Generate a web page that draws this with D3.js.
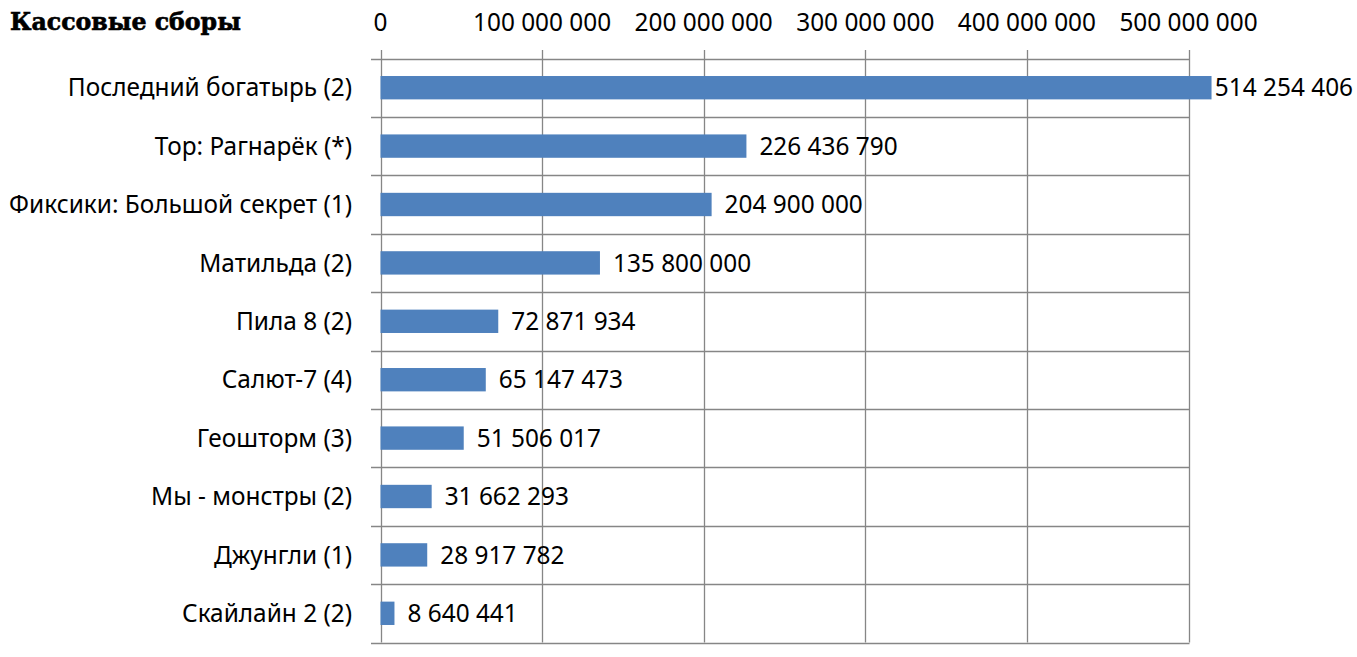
<!DOCTYPE html>
<html>
<head>
<meta charset="utf-8">
<script src="https://cdn.jsdelivr.net/npm/d3@7/dist/d3.min.js"></script>
<style>
  html, body { margin: 0; padding: 0; background: #fff; }
  svg { display: block; }
</style>
</head>
<body>
<svg id="chart" width="1357" height="657"></svg>
<script>
const title = "Кассовые сборы";
const categories = [
  "Последний богатырь (2)",
  "Тор: Рагнарёк (*)",
  "Фиксики: Большой секрет (1)",
  "Матильда (2)",
  "Пила 8 (2)",
  "Салют-7 (4)",
  "Геошторм (3)",
  "Мы - монстры (2)",
  "Джунгли (1)",
  "Скайлайн 2 (2)"
];
const values = [514254406, 226436790, 204900000, 135800000, 72871934, 65147473, 51506017, 31662293, 28917782, 8640441];
const tickValues = [0, 100000000, 200000000, 300000000, 400000000, 500000000];

const W = 1357, H = 657;
const svg = d3.select("#chart");
const sans = "'Noto Sans', 'Open Sans', sans-serif";
const serif = "'DejaVu Serif', 'Liberation Serif', serif";

function fitSize(str, family, weight, targetW) {
  const t = svg.append("text").attr("font-family", family).attr("font-weight", weight)
    .attr("font-size", 100).text(str);
  const w = t.node().getComputedTextLength();
  t.remove();
  return 100 * targetW / w;
}
const labelSize = fitSize("Фиксики: Большой секрет (1)", sans, "normal", 343);
const titleSize = fitSize(title, serif, "bold", 231);
const labelScaleY = 1.07;

const fmt = v => d3.format(",")(v).replace(/,/g, " ");

const x = d3.scaleLinear().domain([0, 500000000]).range([380.5, 1188.5]);
const y = d3.scaleBand().domain(categories).range([58.5, 642.5]).padding(0);
const barH = y.bandwidth() * 0.4;

const grid = "#868686";

svg.append("g").selectAll("line").data(tickValues).join("line")
  .attr("x1", d => Math.round(x(d)) + 0.5).attr("x2", d => Math.round(x(d)) + 0.5)
  .attr("y1", 50).attr("y2", 642.5)
  .attr("stroke", grid).attr("stroke-width", 1.3);

const bounds = categories.map(c => y(c)).concat([y(categories[categories.length - 1]) + y.bandwidth()]);
svg.append("g").selectAll("line").data(bounds).join("line")
  .attr("x1", 371).attr("x2", Math.round(x(500000000)) + 0.5)
  .attr("y1", d => Math.round(d) + 0.5).attr("y2", d => Math.round(d) + 0.5)
  .attr("stroke", grid).attr("stroke-width", 1.3);

svg.append("g").selectAll("rect").data(values).join("rect")
  .attr("x", x(0))
  .attr("y", (d, i) => y(categories[i]) + (y.bandwidth() - barH) / 2)
  .attr("width", d => x(d) - x(0))
  .attr("height", barH)
  .attr("fill", "#4F81BD");

// helper: place text with slight vertical stretch about its baseline
function stretch(sel, px, py) {
  sel.attr("transform", (d, i) => `translate(${px(d, i)},${py(d, i)}) scale(1,${labelScaleY})`);
}

const ticksG = svg.append("g").selectAll("text").data(tickValues).join("text")
  .attr("text-anchor", "middle")
  .attr("font-family", sans).attr("font-size", labelSize).attr("fill", "#000")
  .text(d => fmt(d));
stretch(ticksG, d => x(d), () => 31);

const catG = svg.append("g").selectAll("text").data(categories).join("text")
  .attr("text-anchor", "end")
  .attr("font-family", sans).attr("font-size", labelSize).attr("fill", "#000")
  .text(d => d);
stretch(catG, () => 352, d => y(d) + y.bandwidth() / 2 + labelSize * 0.36);

const vl = svg.append("g").selectAll("text").data(values).join("text")
  .attr("font-family", sans).attr("font-size", labelSize).attr("fill", "#000")
  .text(d => fmt(d));
vl.each(function(d, i) {
  const w = this.getComputedTextLength();
  const px = Math.min(x(d) + 13, W - 4 - w);
  const py = y(categories[i]) + y.bandwidth() / 2 + labelSize * 0.36;
  d3.select(this).attr("transform", `translate(${px},${py}) scale(1,${labelScaleY})`);
});

// title: heavy bold serif, stretched to match cap height
const capTarget = 18;
const ty = capTarget / (0.729 * titleSize);
svg.append("text")
  .attr("transform", `translate(10,30) scale(1,${ty})`)
  .attr("font-family", serif).attr("font-weight", "bold")
  .attr("font-size", titleSize).attr("fill", "#000")
  .attr("stroke", "#000").attr("stroke-width", 0.6)
  .text(title);
</script>
</body>
</html>
